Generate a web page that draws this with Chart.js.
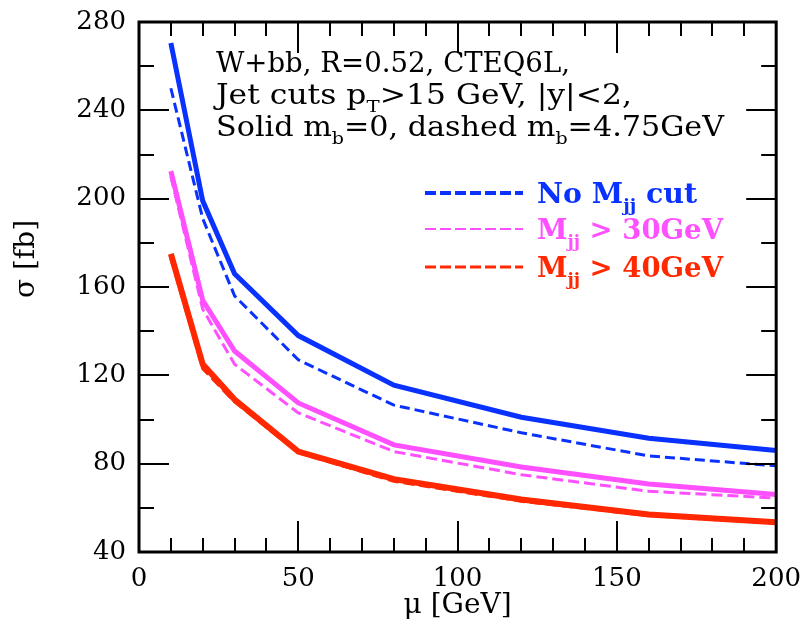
<!DOCTYPE html>
<html><head><meta charset="utf-8">
<script src="https://cdn.jsdelivr.net/npm/chart.js@4/dist/chart.umd.min.js"></script>
<style>html,body{margin:0;padding:0;background:#fff;overflow:hidden}canvas{display:block}</style>
</head><body>
<canvas id="c" width="805" height="631"></canvas>
<script>
// ---- data ----
const mu = [10, 20, 30, 50, 80, 120, 160, 200];
const noCutSolid  = [270.5, 199, 166, 138, 115.5, 101, 91.5, 86];
const noCutDashed = [250, 191, 156, 127, 106.5, 94, 83.5, 79];
const m30Solid    = [212.5, 154, 131, 107.5, 88.5, 78.5, 70.8, 66];
const m30Dashed   = [210, 150, 125, 103, 85.5, 75, 67.5, 64.4];
const m40Solid    = [175, 125, 109, 85.5, 73, 63.8, 57, 53.5];
const m40Dashed   = [173, 123, 108, 85, 72, 63, 56.5, 53];
const xTitle = 'μ [GeV]';
const yTitle = '\u2002\u2002\u2002\u2002σ [fb]';
const legendLabels = [
  [{t:'No M'},{t:'jj',sub:true},{t:' cut'}],
  [{t:'M'},{t:'jj',sub:true},{t:' > 30GeV'}],
  [{t:'M'},{t:'jj',sub:true},{t:' > 40GeV'}]
];
const annotationLines = [
  [{t:'W+bb, R=0.52, CTEQ6L,'}],
  [{t:'Jet cuts p'},{t:'T',sub:true},{t:'>15 GeV, |y|<2,'}],
  [{t:'Solid m'},{t:'b',sub:true},{t:'=0, dashed m'},{t:'b',sub:true},{t:'=4.75GeV'}]
];

const BLUE = '#0a32ff', MAGENTA = '#ff50ff', RED = '#ff2800';
const pts = ys => mu.map((x, i) => ({x, y: ys[i]}));

const datasets = [
  {data: pts(noCutDashed), borderColor: BLUE, borderWidth: 3, borderDash: [10, 5]},
  {data: pts(m30Dashed), borderColor: MAGENTA, borderWidth: 3, borderDash: [11, 5]},
  {data: pts(m40Dashed), borderColor: RED, borderWidth: 3, borderDash: [11, 5]},
  {data: pts(noCutSolid), borderColor: BLUE, borderWidth: 5},
  {data: pts(m30Solid), borderColor: MAGENTA, borderWidth: 5},
  {data: pts(m40Solid), borderColor: RED, borderWidth: 6}
].map(d => Object.assign({pointRadius: 0, tension: 0, fill: false}, d));

function richWidth(ctx, segs, size, weight, family) {
  let w = 0;
  for (const s of segs) {
    const sz = s.sub ? Math.round(size * 0.62) : size;
    ctx.font = `${weight} ${sz}px ${family}`;
    w += ctx.measureText(s.t).width;
  }
  return w;
}
function drawRich(ctx, segs, x, y, size, weight, family, color, targetW) {
  const nat = richWidth(ctx, segs, size, weight, family);
  const sx = targetW ? targetW / nat : 1;
  ctx.save();
  ctx.translate(x, y);
  ctx.scale(sx, 1);
  ctx.fillStyle = color;
  ctx.textBaseline = 'alphabetic';
  ctx.textAlign = 'left';
  let cx = 0;
  for (const s of segs) {
    const sz = s.sub ? Math.round(size * 0.62) : size;
    ctx.font = `${weight} ${sz}px ${family}`;
    const dy = s.sub ? size * 0.28 : 0;
    ctx.fillText(s.t, cx, dy);
    cx += ctx.measureText(s.t).width;
  }
  ctx.restore();
}

const framePlugin = {
  id: 'frame',
  afterDatasetsDraw(chart) {
    const {ctx, chartArea: a, scales: {x, y}} = chart;
    ctx.save();
    ctx.strokeStyle = '#000';
    ctx.lineWidth = 2;
    ctx.beginPath();
    for (let v = 0; v <= 200; v += 10) {
      const px = Math.round(x.getPixelForValue(v));
      const L = v % 50 === 0 ? 31 : 14;
      ctx.moveTo(px, a.bottom); ctx.lineTo(px, a.bottom - L);
      ctx.moveTo(px, a.top); ctx.lineTo(px, a.top + L);
    }
    for (let v = 40; v <= 280; v += 20) {
      const py = Math.round(y.getPixelForValue(v));
      const L = v % 40 === 0 ? 30 : 15;
      ctx.moveTo(a.left, py); ctx.lineTo(a.left + L, py);
      ctx.moveTo(a.right, py); ctx.lineTo(a.right - L, py);
    }
    ctx.stroke();
    ctx.lineWidth = 3;
    ctx.strokeRect(a.left, a.top, a.width, a.height);
    ctx.restore();
  },
  afterDraw(chart) {
    const ctx = chart.ctx;
    ctx.save();
    // annotation
    const base = [72, 104, 136];
    const widths = [354, 416, 508];
    annotationLines.forEach((segs, i) => drawRich(ctx, segs, 216, base[i], 27, 'normal', '"DejaVu Serif"', '#000', widths[i]));
    // legend
    const cols = [BLUE, MAGENTA, RED];
    const lw = [4, 2, 3];
    const ly = [193, 229, 267];
    const tw = [160, 186, 186];
    legendLabels.forEach((segs, i) => {
      ctx.strokeStyle = cols[i];
      ctx.lineWidth = lw[i];
      ctx.setLineDash([11, 4]);
      ctx.beginPath();
      ctx.moveTo(425, ly[i]); ctx.lineTo(523, ly[i]);
      ctx.stroke();
      ctx.setLineDash([]);
      drawRich(ctx, segs, 537, ly[i] + 10, 27, 'bold', '"DejaVu Serif"', cols[i], tw[i]);
    });
    ctx.restore();
  }
};

new Chart(document.getElementById('c'), {
  type: 'line',
  data: {datasets},
  options: {
    responsive: false,
    animation: false,
    devicePixelRatio: 1,
    layout: {padding: {top: 22, right: 26, left: 0, bottom: 0}},
    plugins: {legend: {display: false}, tooltip: {enabled: false}},
    scales: {
      x: {
        type: 'linear', min: 0, max: 200,
        grid: {display: false}, border: {display: false},
        ticks: {stepSize: 50, color: '#000', padding: 4, font: {family: '"DejaVu Serif"', size: 26}, maxRotation: 0},
        title: {display: true, text: xTitle, color: '#000', font: {family: '"DejaVu Serif"', size: 28}, padding: {top: 0, bottom: 8}},
        afterFit(s) { s.height = 79; }
      },
      y: {
        type: 'linear', min: 40, max: 280,
        grid: {display: false}, border: {display: false},
        ticks: {stepSize: 40, color: '#000', padding: 5, font: {family: '"DejaVu Serif"', size: 26}},
        title: {display: true, text: yTitle, color: '#000', font: {family: '"DejaVu Serif"', size: 28}, padding: {top: 10, bottom: 0}},
        afterFit(s) { s.width = 139; }
      }
    }
  },
  plugins: [framePlugin]
});
</script>
</body></html>
